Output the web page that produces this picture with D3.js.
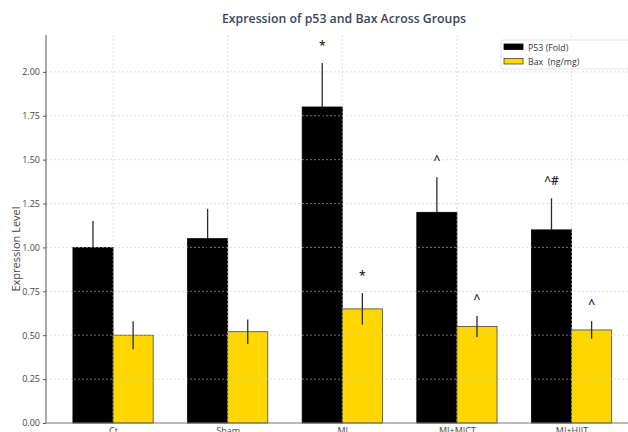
<!DOCTYPE html>
<html>
<head>
<meta charset="utf-8">
<script src="https://cdn.jsdelivr.net/npm/d3@7"></script>
<style>
  html, body { margin: 0; padding: 0; background: #fff; overflow: hidden; }
  svg { display: block; }
  text { font-family: "Open Sans", "Noto Sans", sans-serif; }
</style>
</head>
<body>
<svg id="chart" width="628" height="432"></svg>
<script>
// Groups and measured values
const groups = ["Ct", "Sham", "MI", "MI+MICT", "MI+HIIT"];
const p53Values = [1.00, 1.05, 1.80, 1.20, 1.10];
const p53Errors = [0.15, 0.17, 0.25, 0.20, 0.18];
const baxValues = [0.50, 0.52, 0.65, 0.55, 0.53];
const baxErrors = [0.08, 0.07, 0.09, 0.06, 0.05];
const p53Marks = ["", "", "*", "^", "^#"];
const baxMarks = ["", "", "*", "^", "^"];
const yTicks = [0, 0.25, 0.5, 0.75, 1.0, 1.25, 1.5, 1.75, 2.0];
const seriesNames = ["P53 (Fold)", "Bax  (ng/mg)"];
const seriesColors = ["#000000", "#FFD700"];

const svg = d3.select("#chart");
const plotLeft = 46, plotBottom = 423, plotTop = 35;
const barW = 0.35;

const x = d3.scaleLinear().domain([-0.585, 4.585]).range([plotLeft, 638.6]);
const y = d3.scaleLinear().domain([0, 2.21]).range([plotBottom, plotTop]);

// Title
svg.append("text")
  .attr("x", 344).attr("y", 23)
  .attr("text-anchor", "middle")
  .attr("font-size", 12.3).attr("font-weight", 600)
  .attr("fill", "#3b4456")
  .text("Expression of p53 and Bax Across Groups");

// Bars
const series = [
  { vals: p53Values, errs: p53Errors, marks: p53Marks, off: -barW / 2, color: seriesColors[0], stroke: "#000" },
  { vals: baxValues, errs: baxErrors, marks: baxMarks, off: barW / 2, color: seriesColors[1], stroke: "#444" }
];

series.forEach(s => {
  const g = svg.append("g");
  g.selectAll("rect").data(s.vals).join("rect")
    .attr("x", (d, i) => x(i + s.off - barW / 2))
    .attr("width", x(barW) - x(0))
    .attr("y", d => y(d))
    .attr("height", d => y(0) - y(d))
    .attr("fill", s.color)
    .attr("stroke", s.stroke).attr("stroke-width", 0.8);
});

// Grid drawn over the bars
const grid = svg.append("g").attr("stroke", "#c8c8c8").attr("stroke-width", 0.8)
  .attr("stroke-dasharray", "2,2").attr("opacity", 0.7);
grid.selectAll("line.h").data(yTicks.slice(1)).join("line").attr("class", "h")
  .attr("x1", plotLeft).attr("x2", 628).attr("y1", d => y(d)).attr("y2", d => y(d));
grid.selectAll("line.v").data(groups).join("line").attr("class", "v")
  .attr("x1", (d, i) => x(i)).attr("x2", (d, i) => x(i))
  .attr("y1", plotTop).attr("y2", plotBottom);

// Error bars (upper half above the bar, lower half inside it) and significance marks
series.forEach((s, k) => {
  const g = svg.append("g");
  g.selectAll("line.up").data(s.vals).join("line").attr("class", "up")
    .attr("x1", (d, i) => x(i + s.off)).attr("x2", (d, i) => x(i + s.off))
    .attr("y1", d => y(d)).attr("y2", (d, i) => y(d + s.errs[i]))
    .attr("stroke", "#2a2a2a").attr("stroke-width", 1.3);
  g.selectAll("line.down").data(s.vals).join("line").attr("class", "down")
    .attr("x1", (d, i) => x(i + s.off)).attr("x2", (d, i) => x(i + s.off))
    .attr("y1", (d, i) => y(d - s.errs[i])).attr("y2", d => y(d))
    .attr("stroke", k === 0 ? "#000" : "#2a2a2a").attr("stroke-width", 1.3);
  g.selectAll("text").data(s.marks).join("text")
    .attr("x", (d, i) => x(i + s.off))
    .attr("y", (d, i) => y(s.vals[i] + s.errs[i]) - 13)
    .attr("text-anchor", "middle")
    .attr("font-size", 12).attr("font-weight", 600).attr("fill", "#222")
    .text(d => d);
});

// Axes
const yAxis = d3.axisLeft(y).tickValues(yTicks).tickFormat(d3.format(".2f")).tickSize(3).tickPadding(3);
const yg = svg.append("g").attr("transform", `translate(${plotLeft},0)`).call(yAxis);
yg.select(".domain").attr("d", `M0,${plotTop}V${plotBottom}`).attr("stroke", "#555");
yg.selectAll(".tick line").attr("stroke", "#555");
yg.selectAll(".tick text").attr("font-size", 9).attr("fill", "#444")
  .attr("font-family", "'Open Sans', 'Noto Sans', sans-serif");

const xAxis = d3.axisBottom(x).tickValues(d3.range(groups.length)).tickFormat(i => groups[i]).tickSize(0).tickPadding(5);
const xg = svg.append("g").attr("transform", `translate(0,${plotBottom})`).call(xAxis);
xg.select(".domain").attr("d", `M${plotLeft},0H628`).attr("stroke", "#777");
xg.selectAll(".tick text").attr("font-size", 9).attr("fill", "#444")
  .attr("font-family", "'Open Sans', 'Noto Sans', sans-serif");

// Y label
svg.append("text")
  .attr("transform", `translate(20,${(plotTop + plotBottom) / 2 + 20}) rotate(-90)`)
  .attr("text-anchor", "middle").attr("font-size", 11).attr("fill", "#444")
  .text("Expression Level");

// Legend
const lg = svg.append("g").attr("transform", "translate(501,40)");
lg.append("rect").attr("width", 140).attr("height", 29).attr("rx", 2)
  .attr("fill", "#fff").attr("stroke", "#ddd").attr("stroke-width", 0.8);
seriesNames.forEach((name, i) => {
  lg.append("rect").attr("x", 3).attr("y", 4 + i * 14.5).attr("width", 19).attr("height", 5.5)
    .attr("fill", seriesColors[i]).attr("stroke", i ? "#444" : "#000").attr("stroke-width", 0.8);
  lg.append("text").attr("x", 27).attr("y", 10.5 + i * 14.5)
    .style("white-space", "pre")
    .attr("font-size", 8.8).attr("fill", "#333").text(name);
});
</script>
</body>
</html>
